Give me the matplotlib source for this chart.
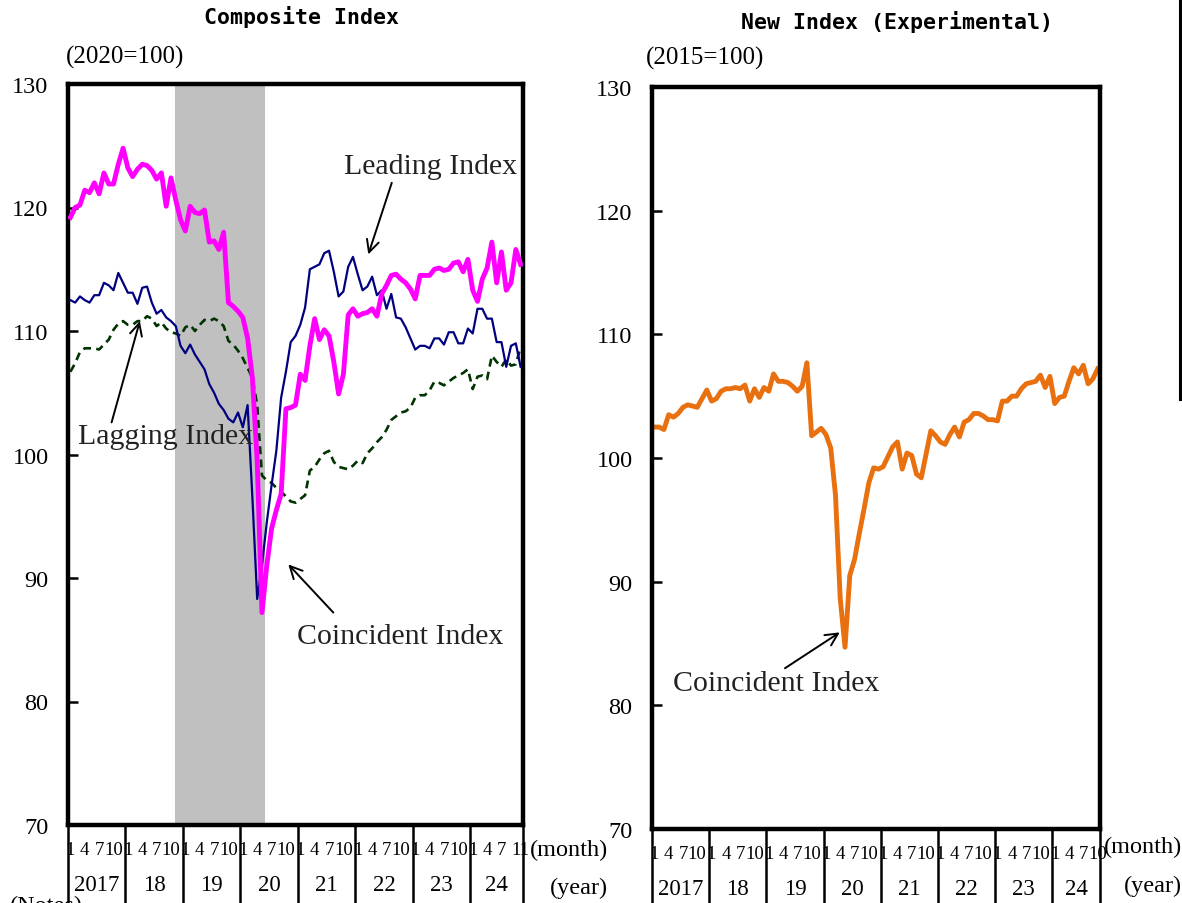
"""
Composite indexes of business conditions, monthly 2017-2024, next to the
experimental new coincident index.  Writes out.png.
"""

import matplotlib
matplotlib.use("Agg")
import matplotlib.pyplot as plt
import matplotlib.transforms as mtransforms
from matplotlib.lines import Line2D

plt.rcParams["font.family"] = ["Liberation Serif", "DejaVu Serif"]

# Composite index (2020=100), Jan 2017 - Nov 2024
coincident = [
    119.2, 120.0, 120.2, 121.4, 121.2, 122.0, 121.1, 122.8, 121.9, 121.9, 123.5, 124.8,
    123.2, 122.5, 123.1, 123.5, 123.4, 123.0, 122.3, 122.8, 120.1, 122.4, 120.6, 119.0,
    118.1, 120.1, 119.6, 119.5, 119.8, 117.2, 117.3, 116.6, 118.0, 112.3, 112.0, 111.6,
    111.1, 109.4, 106.2, 99.5, 87.2, 91.0, 94.0, 95.5, 96.8, 103.7, 103.8, 104.0,
    106.5, 106.0, 108.8, 111.0, 109.3, 110.1, 109.6, 107.5, 104.9, 106.5, 111.3, 111.8,
    111.2, 111.4, 111.5, 111.8, 111.2, 113.0, 113.7, 114.5, 114.6, 114.2, 113.9, 113.4,
    112.6, 114.5, 114.5, 114.5, 115.0, 115.1, 114.9, 115.0, 115.5, 115.6, 114.8, 115.8,
    113.3, 112.4, 114.2, 115.1, 117.2, 113.9, 116.4, 113.3, 113.9, 116.6, 115.4,
]
leading = [
    112.5, 112.3, 112.8, 112.5, 112.3, 112.9, 112.9, 113.9, 113.7, 113.3, 114.7, 113.9,
    113.1, 113.1, 112.2, 113.5, 113.6, 112.3, 111.4, 111.7, 111.1, 110.8, 110.4, 108.8,
    108.2, 108.9, 108.1, 107.5, 106.9, 105.7, 105.0, 104.1, 103.6, 102.9, 102.6, 103.4,
    102.2, 104.0, 96.5, 88.3, 91.0, 94.5, 97.5, 100.3, 104.6, 106.7, 109.1, 109.6,
    110.5, 111.9, 115.0, 115.2, 115.4, 116.3, 116.5, 114.8, 112.8, 113.2, 115.2, 116.0,
    114.6, 113.3, 113.6, 114.4, 112.9, 113.3, 111.8, 113.0, 111.1, 111.0, 110.3, 109.4,
    108.5, 108.8, 108.8, 108.6, 109.4, 109.4, 108.9, 109.9, 109.9, 109.0, 109.0, 110.2,
    109.8, 111.8, 111.8, 111.0, 111.0, 109.1, 109.1, 107.1, 108.8, 109.0, 107.1,
]
lagging = [
    106.7, 107.4, 108.3, 108.6, 108.6, 108.6, 108.5, 108.9, 109.3, 110.1, 110.6, 110.8,
    110.5, 110.5, 110.8, 110.8, 111.2, 111.0, 110.4, 110.7, 110.2, 109.9, 109.8, 109.6,
    110.3, 110.5, 110.0, 110.5, 110.9, 110.8, 111.0, 110.8, 110.4, 109.2, 108.9, 108.4,
    107.8, 107.0, 106.2, 104.0, 98.3, 97.9, 97.7, 97.3, 97.0, 96.6, 96.2, 96.1,
    96.4, 96.7, 98.7, 99.0, 99.6, 100.1, 100.3, 99.4, 99.0, 98.9, 98.8, 99.1,
    99.5, 99.3, 100.1, 100.5, 101.0, 101.4, 102.0, 102.8, 103.1, 103.4, 103.5, 103.8,
    104.6, 104.8, 104.8, 105.2, 105.9, 105.8, 105.6, 105.9, 106.2, 106.4, 106.6, 106.9,
    105.3, 106.3, 106.4, 106.1, 108.0, 107.5, 107.1, 107.7, 107.2, 107.3, 108.7,
]

# New coincident index (2015=100), Jan 2017 - Oct 2024
new_coincident = [
    102.5, 102.5, 102.3, 103.5, 103.3, 103.6, 104.1, 104.3, 104.2, 104.1, 104.8, 105.5,
    104.6, 104.8, 105.4, 105.6, 105.6, 105.7, 105.6, 105.9, 104.6, 105.6, 104.9, 105.7,
    105.4, 106.8, 106.2, 106.2, 106.1, 105.8, 105.4, 105.8, 107.7, 101.8, 102.1, 102.4,
    101.9, 100.8, 97.0, 88.6, 84.7, 90.5, 91.8, 93.9, 95.9, 98.0, 99.2, 99.1,
    99.3, 100.1, 100.9, 101.3, 99.1, 100.4, 100.2, 98.7, 98.4, 100.3, 102.2, 101.8,
    101.3, 101.1, 101.9, 102.5, 101.7, 102.9, 103.1, 103.6, 103.6, 103.4, 103.1, 103.1,
    103.0, 104.6, 104.6, 105.0, 105.0, 105.6, 106.0, 106.1, 106.2, 106.7, 105.7, 106.6,
    104.4, 104.9, 105.0, 106.2, 107.3, 106.8, 107.5, 106.0, 106.4, 107.2,
]

year_labels = ["2017", "18", "19", "20", "21", "22", "23", "24"]
month_marks = [1, 4, 7, 10]
left_last_marks = [1, 4, 7, 11]

# recession: Oct 2018 peak to May 2020 trough (month index, 0 = Jan 2017)
recession = (21.8, 40.6)

W, H = 1182, 904


def px_rect(left, top, right, bottom):
    return [left / W, 1 - bottom / H, (right - left) / W, (bottom - top) / H]


def fig_xy(x, y):
    return x / W, 1 - y / H


def style_axes(ax, n, marks_last):
    ax.set_xlim(-0.5, n - 0.5)
    ax.set_ylim(70, 130)
    ax.set_yticks(range(70, 131, 10))
    ax.set_xticks([])
    ax.tick_params(axis="y", direction="in", length=7, width=1.8, pad=14, labelsize=17.5)
    for sp in ax.spines.values():
        sp.set_linewidth(3.2)

    trans = mtransforms.blended_transform_factory(ax.transData, ax.transAxes)
    ax_h = ax.get_position().height * H
    # year dividers hanging below the plot
    edges = [12 * k - 0.5 for k in range(len(year_labels))] + [n - 0.5]
    for x in edges:
        ax.plot([x, x], [0, -80 / ax_h], transform=trans, color="black",
                lw=1.8, clip_on=False, solid_capstyle="butt")
    for k, yr in enumerate(year_labels):
        marks = marks_last if k == len(year_labels) - 1 else month_marks
        for m in marks:
            ax.text(12 * k + m - 1, -25 / ax_h, str(m), transform=trans,
                    ha="center", va="center", fontsize=13.5)
        mid = (edges[k] + edges[k + 1]) / 2
        ax.text(mid, -60 / ax_h, yr, transform=trans, ha="center", va="center",
                fontsize=16.5)


def arrow(ax, tail, head):
    ax.annotate("", xy=head, xytext=tail,
                arrowprops=dict(arrowstyle="->", color="black", lw=1.4,
                                mutation_scale=22, shrinkA=0, shrinkB=0))


fig = plt.figure(figsize=(W / 100, H / 100), dpi=100)

# left panel: composite index
ax1 = fig.add_axes(px_rect(68, 85, 523, 826))
months = list(range(len(coincident)))
ax1.axvspan(*recession, color="#c0c0c0", lw=0, zorder=0)
ax1.plot(months, lagging, color="#003300", lw=1.9, ls=(0, (3, 2)), zorder=2)
ax1.plot(months, leading, color="#000080", lw=1.6, zorder=3)
ax1.plot(months, coincident, color="#ff00ff", lw=3.5, zorder=4)
style_axes(ax1, len(coincident), left_last_marks)

ann = dict(fontsize=21.5, ha="center", va="center", zorder=6, color="#222222")
ax1.text(75.3, 123.4, "Leading Index", **ann)
arrow(ax1, (67.1, 122.0), (62.2, 116.2))
ax1.text(19.8, 101.5, "Lagging Index", **ann)
arrow(ax1, (8.6, 102.6), (14.5, 110.8))
ax1.text(68.8, 85.3, "Coincident Index", **ann)
arrow(ax1, (54.9, 87.2), (45.5, 91.1))

# right panel: new index
ax2 = fig.add_axes(px_rect(652, 88, 1100, 830))
ax2.plot(range(len(new_coincident)), new_coincident, color="#e8700f", lw=3.5)
style_axes(ax2, len(new_coincident), month_marks)
ax2.text(25.5, 81.8, "Coincident Index", **ann)
arrow(ax2, (27.4, 83.0), (38.9, 85.9))

# titles, base-year notes and axis unit labels
title_kw = dict(family="DejaVu Sans Mono", fontweight="bold", fontsize=15.5,
                ha="center", va="center")
fig.text(*fig_xy(302, 17), "Composite Index", **title_kw)
fig.text(*fig_xy(897, 22), "New Index (Experimental)", **title_kw)
fig.text(*fig_xy(66, 57), "(2020=100)", fontsize=18, ha="left", va="center")
fig.text(*fig_xy(646, 58), "(2015=100)", fontsize=18, ha="left", va="center")

unit_kw = dict(fontsize=17.5, ha="right", va="center")
fig.text(*fig_xy(608, 850), "(month)", **unit_kw)
fig.text(*fig_xy(608, 888), "(year)", **unit_kw)
fig.text(*fig_xy(1182, 847), "(month)", **unit_kw)
fig.text(*fig_xy(1182, 886), "(year)", **unit_kw)
fig.text(*fig_xy(10, 906), "(Notes)", fontsize=17.5, ha="left", va="center")

fig.add_artist(Line2D([1180 / W, 1180 / W], [1, 1 - 400 / H], color="black", lw=2.2))

fig.savefig("out.png", dpi=100)
